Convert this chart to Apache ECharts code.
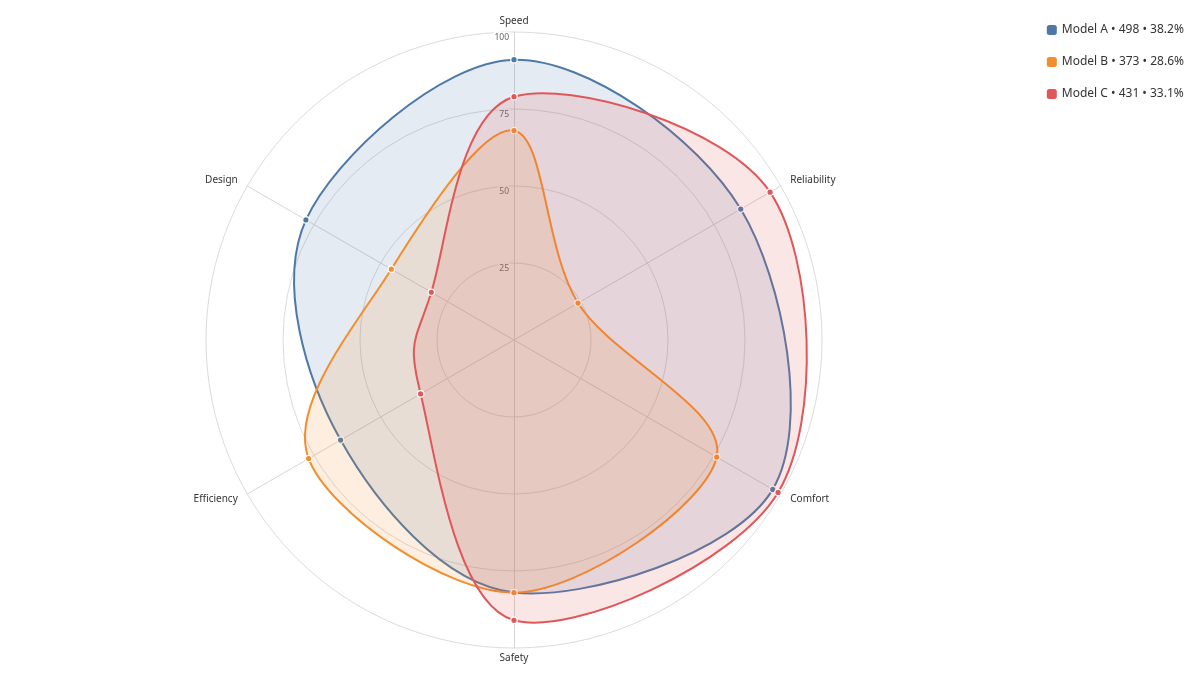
<!DOCTYPE html>
<html>
<head>
<meta charset="utf-8">
<script src="https://cdn.jsdelivr.net/npm/echarts@6/dist/echarts.min.js"></script>
<style>
  html, body { margin: 0; padding: 0; background: #fff; }
  #chart { width: 1200px; height: 680px; }
</style>
</head>
<body>
<div id="chart"></div>
<script>
// ---- data ----
const categories = ['Speed', 'Reliability', 'Comfort', 'Safety', 'Efficiency', 'Design'];
const seriesNames = ['Model A', 'Model B', 'Model C'];
const modelA = [91, 85, 97, 82, 65, 78];
const modelB = [68, 24, 76, 82, 77, 46];
const modelC = [79, 96, 99, 91, 35, 31];
const axisMax = 100;
const axisSplits = 4;

// ---- styling / helpers ----
const seriesValues = [modelA, modelB, modelC];
const colors = ['#4e79a7', '#f28e2b', '#e15759'];
const FONT = 'Noto Sans';
const CX = 514, CY = 340, R = 308;

function rgba(hex, a) {
  const n = parseInt(hex.slice(1), 16);
  return 'rgba(' + ((n >> 16) & 255) + ',' + ((n >> 8) & 255) + ',' + (n & 255) + ',' + a + ')';
}
function closedCatmull(p) {
  const n = p.length;
  const f = v => v.toFixed(2);
  let d = 'M' + f(p[0][0]) + ',' + f(p[0][1]);
  for (let i = 0; i < n; i++) {
    const p0 = p[(i - 1 + n) % n], p1 = p[i], p2 = p[(i + 1) % n], p3 = p[(i + 2) % n];
    const c1 = [p1[0] + (p2[0] - p0[0]) / 6, p1[1] + (p2[1] - p0[1]) / 6];
    const c2 = [p2[0] - (p3[0] - p1[0]) / 6, p2[1] - (p3[1] - p1[1]) / 6];
    d += 'C' + f(c1[0]) + ',' + f(c1[1]) + ',' + f(c2[0]) + ',' + f(c2[1]) + ',' + f(p2[0]) + ',' + f(p2[1]);
  }
  return d + 'Z';
}

const sums = seriesValues.map(v => v.reduce((a, b) => a + b, 0));
const total = sums.reduce((a, b) => a + b, 0);

// radar lays indicators counter-clockwise; reorder so they run clockwise like the polar axis
const radarOrder = [0].concat(categories.map((_, i) => i).slice(1).reverse());
function nameGapFor(i) {
  const n = categories.length;
  if (i === 0) return 6;
  if (i * 2 === n) return 5;
  return 11;
}

function makeSeries(s) {
  const values = seriesValues[s];
  const color = colors[s];
  return {
    type: 'custom',
    name: seriesNames[s],
    coordinateSystem: 'polar',
    itemStyle: { color: color },
    encode: { radius: 0, angle: 1 },
    data: values.map((v, i) => [v, i]),
    renderItem: function (params, api) {
      const children = [];
      if (params.dataIndex === 0) {
        const pts = values.map((v, k) => api.coord([v, k]));
        children.push({
          type: 'path',
          shape: { pathData: closedCatmull(pts) },
          style: { fill: rgba(color, 0.15), stroke: color, lineWidth: 2 },
          z2: s * 10
        });
      }
      const p = api.coord([api.value(0), api.value(1)]);
      children.push({
        type: 'circle',
        shape: { cx: p[0], cy: p[1], r: 3.2 },
        style: { fill: color, stroke: '#fff', lineWidth: 1.2 },
        z2: s * 10 + 5
      });
      return { type: 'group', children: children };
    }
  };
}

const chart = echarts.init(document.getElementById('chart'));
chart.setOption({
  animation: false,
  backgroundColor: '#fff',
  textStyle: { fontFamily: FONT },
  color: colors,
  legend: {
    orient: 'vertical',
    right: 11,
    top: 19,
    itemWidth: 10,
    itemHeight: 10,
    itemGap: 20,
    icon: 'roundRect',
    textStyle: { fontSize: 12, color: '#333', fontFamily: FONT },
    data: seriesNames,
    formatter: function (name) {
      const i = seriesNames.indexOf(name);
      return name + ' \u2022 ' + sums[i] + ' \u2022 ' + (sums[i] / total * 100).toFixed(1) + '%';
    }
  },
  radar: {
    center: [CX, CY],
    radius: R,
    startAngle: 90,
    shape: 'circle',
    splitNumber: axisSplits,
    indicator: radarOrder.map(i => ({
      name: categories[i],
      min: 0,
      max: axisMax,
      nameGap: nameGapFor(i),
      axisLabel: { show: i === 0 }
    })),
    axisName: { color: '#333', fontSize: 10, fontFamily: FONT },
    axisLine: { show: true, lineStyle: { color: '#d6d6d6', width: 1 } },
    splitLine: { show: true, lineStyle: { color: '#dcdcdc', width: 1 } },
    splitArea: { show: false },
    axisTick: { show: false },
    axisLabel: {
      show: false,
      showMinLabel: false,
      color: '#666',
      fontSize: 8.5,
      fontFamily: FONT,
      margin: 3,
      align: 'right',
      verticalAlign: 'top',
      backgroundColor: 'rgba(255,255,255,0.85)',
      padding: [1, 2, 1, 2],
      borderRadius: 2
    }
  },
  polar: { center: [CX, CY], radius: R },
  angleAxis: {
    type: 'category',
    data: categories,
    startAngle: 90,
    clockwise: true,
    boundaryGap: false,
    show: false
  },
  radiusAxis: { type: 'value', min: 0, max: axisMax, show: false },
  series: seriesValues.map((_, s) => makeSeries(s))
});
</script>
</body>
</html>
